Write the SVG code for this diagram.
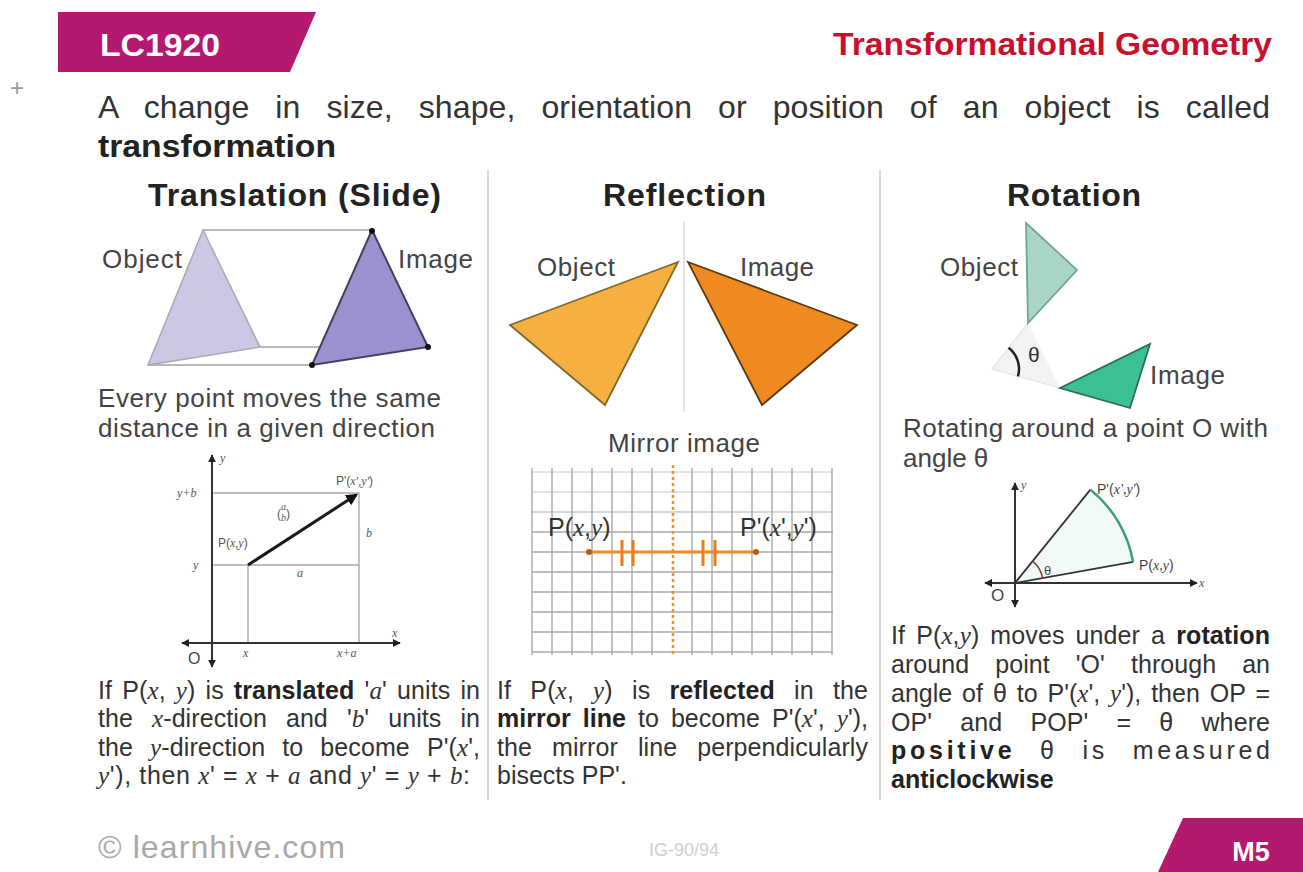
<svg xmlns="http://www.w3.org/2000/svg" width="1303" height="872" viewBox="0 0 1303 872">
<defs>
<style>
text{font-family:"Liberation Sans",Arial,sans-serif;fill:#333}
.b{font-weight:bold}
.m{font-family:"Liberation Serif","Times New Roman",serif;font-style:italic}
.h{font-size:32px;font-weight:bold;fill:#222}
.lab{font-size:26px;fill:#444}
.body{font-size:25px}
.sm{font-size:12px;fill:#555}
.sep{stroke:#cfcfcf;stroke-width:1.5}
.grid{stroke:#a8a8a8;stroke-width:1.4}
.ax{stroke:#333;stroke-width:2;fill:none}
.thin{stroke:#a0a0a0;stroke-width:1.5;fill:none}
</style>
<marker id="ah" viewBox="0 0 10 10" refX="9" refY="5" markerWidth="8" markerHeight="8" markerUnits="userSpaceOnUse" orient="auto-start-reverse">
<path d="M0,0 L10,5 L0,10 z" fill="#222"/>
</marker>
<marker id="ahb" viewBox="0 0 10 10" refX="8" refY="5" markerWidth="12" markerHeight="12" markerUnits="userSpaceOnUse" orient="auto">
<path d="M0,0 L10,5 L0,10 z" fill="#111"/>
</marker>
</defs>
<rect width="1303" height="872" fill="#ffffff"/>

<g id="header">
<polygon points="58,12 316,12 290,72 58,72" fill="#b3196f"/>
<text x="100" y="56" font-size="31" font-weight="bold" style="fill:#fff" textLength="120" lengthAdjust="spacingAndGlyphs">LC1920</text>
<text x="833" y="55" font-size="31" font-weight="bold" style="fill:#c8102e" textLength="439" lengthAdjust="spacingAndGlyphs">Transformational Geometry</text>
<text x="10" y="96" font-size="24" style="fill:#999">+</text>
</g>

<g id="intro">
<text x="98" y="118" font-size="32" word-spacing="17" textLength="1172" lengthAdjust="spacing">A change in size, shape, orientation or position of an object is called</text>
<text x="98" y="157" font-size="32" class="b" textLength="238" lengthAdjust="spacingAndGlyphs" style="fill:#222">transformation</text>
</g>

<g id="separators">
<line class="sep" x1="488" y1="170" x2="488" y2="800"/>
<line class="sep" x1="880" y1="170" x2="880" y2="800"/>
</g>

<g id="translation">
<text class="h" x="148" y="206" textLength="293">Translation (Slide)</text>
<line class="thin" x1="203" y1="230" x2="372" y2="230"/>
<line class="thin" x1="260" y1="347" x2="428" y2="347"/>
<line class="thin" x1="148" y1="365" x2="312" y2="365"/>
<polygon points="203,230 148,365 260,347" fill="#cbc8e3" stroke="#a9a6bd" stroke-width="1.5"/>
<polygon points="372,230 312,365 428,347" fill="#9a92cf" stroke="#454060" stroke-width="2"/>
<circle cx="372" cy="231" r="3" fill="#111"/>
<circle cx="312" cy="365" r="3" fill="#111"/>
<circle cx="428" cy="347" r="3" fill="#111"/>
<text class="lab" x="102" y="268" textLength="80">Object</text>
<text class="lab" x="398" y="268" textLength="75">Image</text>
<text class="lab" x="98" y="407" textLength="343">Every point moves the same</text>
<text class="lab" x="98" y="437" textLength="337">distance in a given direction</text>
</g>

<g id="translation-graph">
<line class="grid" x1="212" y1="493" x2="359" y2="493"/>
<line class="grid" x1="212" y1="565" x2="359" y2="565"/>
<line class="grid" x1="248" y1="565" x2="248" y2="643"/>
<line class="grid" x1="359" y1="493" x2="359" y2="643"/>
<line class="ax" x1="212" y1="667" x2="212" y2="455" marker-start="url(#ah)" marker-end="url(#ah)"/>
<line class="ax" x1="182" y1="643" x2="400" y2="643" marker-start="url(#ah)" marker-end="url(#ah)"/>
<line x1="248" y1="565" x2="356" y2="495" stroke="#1a1a1a" stroke-width="3" marker-end="url(#ahb)"/>
<text class="sm m" x="220" y="462">y</text>
<text class="sm m" x="177" y="497">y+b</text>
<text class="sm m" x="193" y="569">y</text>
<text class="sm" x="336" y="485">P'(<tspan class="m">x',y'</tspan>)</text>
<text class="sm" x="277" y="518" font-size="20">(<tspan class="m" font-size="10" dy="-8">a</tspan><tspan class="m" font-size="10" dx="-5" dy="11">b</tspan><tspan dy="-3">)</tspan></text>
<text class="sm" x="218" y="547">P(<tspan class="m">x,y</tspan>)</text>
<text class="sm m" x="366" y="537">b</text>
<text class="sm m" x="297" y="577">a</text>
<text class="sm m" x="392" y="637">x</text>
<text x="188" y="664" font-size="16" style="fill:#444">O</text>
<text class="sm m" x="243" y="657">x</text>
<text class="sm m" x="337" y="657">x+a</text>
</g>

<g id="translation-text">
<text class="body" x="98" y="699" word-spacing="3" textLength="382">If P(<tspan class="m">x</tspan>, <tspan class="m">y</tspan>) is <tspan class="b" style="fill:#222">translated</tspan> '<tspan class="m">a</tspan>' units in</text>
<text class="body" x="98" y="727" word-spacing="12" textLength="382">the <tspan class="m">x</tspan>-direction and '<tspan class="m">b</tspan>' units in</text>
<text class="body" x="98" y="756" word-spacing="10" textLength="382">the <tspan class="m">y</tspan>-direction to become P'(<tspan class="m">x</tspan>',</text>
<text class="body" x="98" y="784" textLength="372"><tspan class="m">y</tspan>'), then <tspan class="m">x</tspan>' = <tspan class="m">x</tspan> + <tspan class="m">a</tspan> and <tspan class="m">y</tspan>' = <tspan class="m">y</tspan> + <tspan class="m">b</tspan>:</text>
</g>

<g id="reflection">
<text class="h" x="603" y="206" textLength="163">Reflection</text>
<line x1="684" y1="222" x2="684" y2="412" stroke="#dcdcdc" stroke-width="1.5"/>
<polygon points="678,262 510,325 605,405" fill="#f6b042" stroke="#7d6b2a" stroke-width="1.8"/>
<polygon points="688,262 857,325 762,405" fill="#ee8a1f" stroke="#5a3a14" stroke-width="1.8"/>
<text class="lab" x="537" y="276" textLength="78">Object</text>
<text class="lab" x="740" y="276" textLength="74">Image</text>
<text class="lab" x="684" y="452" text-anchor="middle" textLength="152">Mirror image</text>
</g>

<g id="reflection-grid">
<g class="grid">
<line x1="532" y1="472" x2="833" y2="472" stroke-opacity="0.45"/>
<line x1="532" y1="492" x2="833" y2="492" stroke-opacity="0.45"/>
<line x1="532" y1="512" x2="833" y2="512" stroke-opacity="0.6"/>
<line x1="532" y1="532" x2="833" y2="532"/>
<line x1="532" y1="552" x2="833" y2="552"/>
<line x1="532" y1="572" x2="833" y2="572"/>
<line x1="532" y1="592" x2="833" y2="592"/>
<line x1="532" y1="612" x2="833" y2="612"/>
<line x1="532" y1="632" x2="833" y2="632"/>
<line x1="532" y1="652" x2="833" y2="652"/>
<line x1="532" y1="468" x2="532" y2="655"/>
<line x1="552" y1="468" x2="552" y2="655"/>
<line x1="572" y1="468" x2="572" y2="655"/>
<line x1="592" y1="468" x2="592" y2="655"/>
<line x1="612" y1="468" x2="612" y2="655"/>
<line x1="632" y1="468" x2="632" y2="655"/>
<line x1="652" y1="468" x2="652" y2="655"/>
<line x1="692" y1="468" x2="692" y2="655"/>
<line x1="712" y1="468" x2="712" y2="655"/>
<line x1="732" y1="468" x2="732" y2="655"/>
<line x1="752" y1="468" x2="752" y2="655"/>
<line x1="772" y1="468" x2="772" y2="655"/>
<line x1="792" y1="468" x2="792" y2="655"/>
<line x1="812" y1="468" x2="812" y2="655"/>
<line x1="832" y1="468" x2="832" y2="655"/>
</g>
<line x1="673" y1="465" x2="673" y2="657" stroke="#f0902a" stroke-width="2.5" stroke-dasharray="3,3"/>
<line x1="588" y1="552" x2="757" y2="552" stroke="#f08a24" stroke-width="3"/>
<circle cx="589" cy="552" r="3" fill="#b85a10"/>
<circle cx="756" cy="552" r="3" fill="#b85a10"/>
<g stroke="#f07a1a" stroke-width="3">
<line x1="622" y1="540" x2="622" y2="566"/>
<line x1="633" y1="540" x2="633" y2="566"/>
<line x1="703" y1="540" x2="703" y2="566"/>
<line x1="715" y1="540" x2="715" y2="566"/>
</g>
<text x="548" y="536" font-size="25" style="fill:#333">P(<tspan class="m">x</tspan>,<tspan class="m">y</tspan>)</text>
<text x="740" y="536" font-size="25" style="fill:#333">P'(<tspan class="m">x</tspan>',<tspan class="m">y</tspan>')</text>
</g>

<g id="reflection-text">
<text class="body" x="497" y="699" word-spacing="12" textLength="371">If P(<tspan class="m">x</tspan>, <tspan class="m">y</tspan>) is <tspan class="b" style="fill:#222">reflected</tspan> in the</text>
<text class="body" x="497" y="727" word-spacing="5" textLength="371"><tspan class="b" style="fill:#222">mirror line</tspan> to become P'(<tspan class="m">x</tspan>', <tspan class="m">y</tspan>'),</text>
<text class="body" x="497" y="756" word-spacing="13" textLength="371">the mirror line perpendicularly</text>
<text class="body" x="497" y="784">bisects PP'.</text>
</g>

<g id="rotation">
<text class="h" x="1007" y="206" textLength="134">Rotation</text>
<path d="M992,369 L1028,323 L1060,388 Z" fill="#f3f3f3" stroke="none"/>
<line x1="992" y1="369" x2="1028" y2="323" stroke="#e2e2e2" stroke-width="1.2"/>
<line x1="992" y1="369" x2="1060" y2="388" stroke="#e2e2e2" stroke-width="1.2"/>
<polygon points="1026,223 1077,270 1028,323" fill="#a9d6c8" stroke="#6fa695" stroke-width="1.8"/>
<polygon points="1060,388 1150,344 1130,408" fill="#3dbf94" stroke="#2a6e58" stroke-width="1.8"/>
<path d="M1008.6,347.7 A27,27 0 0 1 1018,376.3" fill="none" stroke="#222" stroke-width="2.5"/>
<text x="1028" y="362" font-size="21" style="fill:#333">θ</text>
<text class="lab" x="940" y="276" textLength="78">Object</text>
<text class="lab" x="1150" y="384" textLength="75">Image</text>
<text class="lab" x="903" y="437" textLength="365">Rotating around a point O with</text>
<text class="lab" x="903" y="467">angle θ</text>
</g>

<g id="rotation-graph">
<path d="M1015,583 L1090.4,489.6 A120,120 0 0 1 1133.1,561.95 Z" fill="#f1faf7" stroke="none"/>
<line class="ax" x1="1015" y1="607" x2="1015" y2="483" marker-start="url(#ah)" marker-end="url(#ah)"/>
<line class="ax" x1="985" y1="583" x2="1197" y2="583" marker-start="url(#ah)" marker-end="url(#ah)"/>
<line x1="1015" y1="583" x2="1090.4" y2="489.6" stroke="#333" stroke-width="1.8"/>
<line x1="1015" y1="583" x2="1133.1" y2="561.95" stroke="#333" stroke-width="1.8"/>
<path d="M1090.4,489.6 A120,120 0 0 1 1133.1,561.95" fill="none" stroke="#3a9e7f" stroke-width="2.5"/>
<path d="M1032.6,561.2 A28,28 0 0 1 1042.6,578.1" fill="none" stroke="#8a3a3a" stroke-width="1.5"/>
<text class="sm m" x="1021" y="489">y</text>
<text x="1097" y="494" font-size="14" style="fill:#444">P'(<tspan class="m">x',y'</tspan>)</text>
<text x="1044" y="575" font-size="13" style="fill:#444">θ</text>
<text x="1139" y="570" font-size="14" style="fill:#444">P(<tspan class="m">x,y</tspan>)</text>
<text class="sm m" x="1199" y="587">x</text>
<text x="991" y="601" font-size="17" style="fill:#444">O</text>
</g>

<g id="rotation-text">
<text class="body" x="891" y="644" word-spacing="4" textLength="379">If P(<tspan class="m">x</tspan>,<tspan class="m">y</tspan>) moves under a <tspan class="b" style="fill:#222">rotation</tspan></text>
<text class="body" x="891" y="673" word-spacing="19" textLength="379">around point 'O' through an</text>
<text class="body" x="891" y="702" word-spacing="3" textLength="379">angle of θ to P'(<tspan class="m">x</tspan>', <tspan class="m">y</tspan>'), then OP =</text>
<text class="body" x="891" y="731" word-spacing="21" textLength="379">OP' and POP' = θ where</text>
<text class="body" x="891" y="759" word-spacing="14" textLength="379"><tspan class="b" style="fill:#222">positive</tspan> θ is measured</text>
<text class="body b" x="891" y="788" style="fill:#222">anticlockwise</text>
</g>

<g id="footer">
<text x="98" y="858" font-size="32" style="fill:#a8a8a8" textLength="247">© learnhive.com</text>
<text x="684" y="856" font-size="18" text-anchor="middle" style="fill:#cfcfcf">IG-90/94</text>
<polygon points="1183,818 1303,818 1303,872 1158,872" fill="#b3196f"/>
<text x="1251" y="861" font-size="27" font-weight="bold" text-anchor="middle" style="fill:#fff">M5</text>
</g>
</svg>
